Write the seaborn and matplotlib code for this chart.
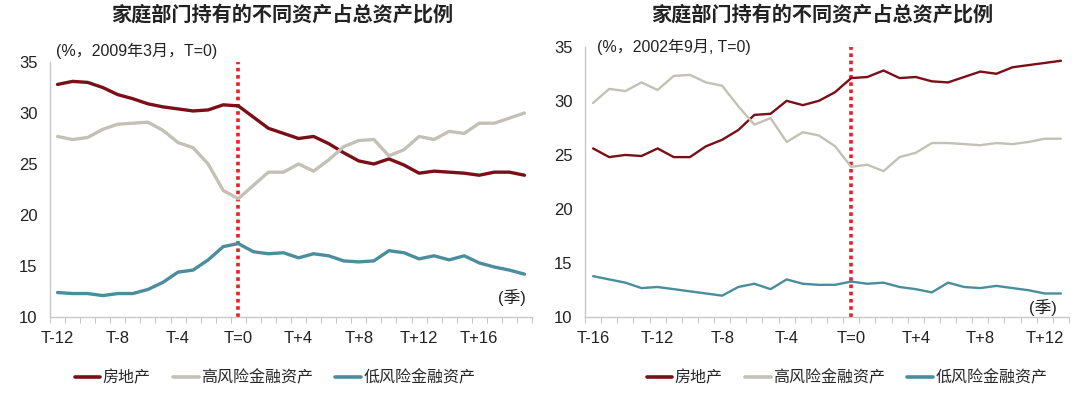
import numpy as np
import pandas as pd
import matplotlib
matplotlib.use("Agg")
import matplotlib.pyplot as plt
import seaborn as sns
from matplotlib.ticker import FixedLocator

# ---------------- data ----------------
title = "家庭部门持有的不同资产占总资产比例"
series_names = ["房地产", "高风险金融资产", "低风险金融资产"]

# Left panel: T-12 .. T+19 (T=0 : 2009年3月)
left_t = list(range(-12, 20))
left_real_estate = [32.8, 33.1, 33.0, 32.5, 31.8, 31.4, 30.9, 30.6, 30.4, 30.2, 30.3, 30.8, 30.7,
                    29.6, 28.5, 28.0, 27.5, 27.7, 27.0, 26.1, 25.3, 25.0, 25.5, 24.9, 24.1, 24.3,
                    24.2, 24.1, 23.9, 24.2, 24.2, 23.9]
left_high_risk = [27.7, 27.4, 27.6, 28.4, 28.9, 29.0, 29.1, 28.3, 27.1, 26.6, 25.0, 22.4, 21.6,
                  22.9, 24.2, 24.2, 25.0, 24.3, 25.4, 26.7, 27.3, 27.4, 25.8, 26.4, 27.7, 27.4,
                  28.2, 28.0, 29.0, 29.0, 29.5, 30.0]
left_low_risk = [12.4, 12.3, 12.3, 12.1, 12.3, 12.3, 12.7, 13.4, 14.4, 14.6, 15.6, 16.9, 17.2,
                 16.4, 16.2, 16.3, 15.8, 16.2, 16.0, 15.5, 15.4, 15.5, 16.5, 16.3, 15.7, 16.0,
                 15.6, 16.0, 15.3, 14.9, 14.6, 14.2]
left_tick_labels = ["T-12", "T-8", "T-4", "T=0", "T+4", "T+8", "T+12", "T+16"]
left_note = "(%，2009年3月，T=0)"

# Right panel: T-16 .. T+13 (T=0 : 2002年9月)
right_t = list(range(-16, 14))
right_real_estate = [25.6, 24.8, 25.0, 24.9, 25.6, 24.8, 24.8, 25.8, 26.4, 27.3, 28.7, 28.8, 30.0,
                     29.6, 30.0, 30.8, 32.1, 32.2, 32.8, 32.1, 32.2, 31.8, 31.7, 32.2, 32.7, 32.5,
                     33.1, 33.3, 33.5, 33.7]
right_high_risk = [29.8, 31.1, 30.9, 31.7, 31.0, 32.3, 32.4, 31.7, 31.4, 29.5, 27.8, 28.4, 26.2,
                   27.1, 26.8, 25.8, 23.9, 24.1, 23.5, 24.8, 25.2, 26.1, 26.1, 26.0, 25.9, 26.1,
                   26.0, 26.2, 26.5, 26.5]
right_low_risk = [13.8, 13.5, 13.2, 12.7, 12.8, 12.6, 12.4, 12.2, 12.0, 12.8, 13.1, 12.6, 13.5,
                  13.1, 13.0, 13.0, 13.3, 13.1, 13.2, 12.8, 12.6, 12.3, 13.2, 12.8, 12.7, 12.9,
                  12.7, 12.5, 12.2, 12.2]
right_tick_labels = ["T-16", "T-12", "T-8", "T-4", "T=0", "T+4", "T+8", "T+12"]
right_note = "(%，2002年9月, T=0)"

unit_label = "(季)"
palette = {"房地产": "#7a0f17", "高风险金融资产": "#c3c1b5", "低风险金融资产": "#4a8d9c"}

# ---------------- style ----------------
sns.set_theme(style="white")
plt.rcParams["font.family"] = ["Liberation Sans", "Noto Sans CJK SC", "DejaVu Sans"]
plt.rcParams["axes.unicode_minus"] = False

fig = plt.figure(figsize=(10.8, 3.96), dpi=100)
ax_l = fig.add_axes([50 / 1080, 1 - 317 / 396, 482 / 1080, 255 / 396])
ax_r = fig.add_axes([585 / 1080, 1 - 317.3 / 396, 484 / 1080, 270.6 / 396])


def make_df(ts, a, b, c):
    rows = []
    for name, vals in zip(series_names, (a, b, c)):
        for i, (t, v) in enumerate(zip(ts, vals)):
            rows.append({"pos": i, "t": t, "series": name, "value": v})
    return pd.DataFrame(rows)


def draw(ax, ts, a, b, c, labels, note, note_xy, unit_xy, lw, legend_x):
    df = make_df(ts, a, b, c)
    sns.lineplot(data=df, x="pos", y="value", hue="series", hue_order=series_names,
                 palette=palette, linewidth=lw, ax=ax, legend=False)
    n = len(ts)
    ax.set_xlim(-0.5, n - 0.5)
    ax.set_ylim(10, 35)
    ax.set_yticks([10, 15, 20, 25, 30, 35])
    zero = ts.index(0)
    ax.axvline(zero, color="#ee1c25", linestyle=(0, (1, 1)), linewidth=2.6, zorder=1)
    lab_pos = [ts.index(int(s[1:].replace("=", ""))) if s != "T=0" else zero for s in labels]
    ax.set_xticks(lab_pos)
    ax.set_xticklabels(labels)
    ax.xaxis.set_minor_locator(FixedLocator(np.arange(-0.5, n, 1.0)))
    ax.tick_params(axis="x", which="major", length=0, pad=10, labelsize=12, colors="#222222")
    ax.tick_params(axis="x", which="minor", length=4, width=0.8, color="#c8c8c8", direction="out",
                   bottom=True)
    ax.tick_params(axis="y", length=0, pad=9, labelsize=12, colors="#222222")
    for side in ["top", "right"]:
        ax.spines[side].set_visible(False)
    for side in ["left", "bottom"]:
        ax.spines[side].set_color("#c8c8c8")
        ax.spines[side].set_linewidth(1.0)
    ax.set_xlabel("")
    ax.set_ylabel("")
    ax.grid(False)
    fig.text(note_xy[0] / 1080, 1 - note_xy[1] / 396, note, fontsize=11.5,
             ha="left", va="center", color="#222222")
    fig.text(unit_xy[0] / 1080, 1 - unit_xy[1] / 396, unit_label, fontsize=12,
             ha="center", va="center", color="#222222")
    handles = [plt.Line2D([], [], color=palette[s], linewidth=2.6) for s in series_names]
    fig.legend(handles, series_names, loc="center", bbox_to_anchor=(legend_x / 1080, 1 - 378 / 396),
               ncol=3, frameon=False, fontsize=11.5, handlelength=1.6, handletextpad=0.15,
               columnspacing=1.4)


draw(ax_l, left_t, left_real_estate, left_high_risk, left_low_risk, left_tick_labels,
     left_note, (56, 51), (512, 297), 2.4, 275)
draw(ax_r, right_t, right_real_estate, right_high_risk, right_low_risk, right_tick_labels,
     right_note, (597, 47), (1043, 308), 1.7, 847)

fig.text(282 / 1080, 1 - 15 / 396, title, fontsize=14.5, fontweight="bold",
         ha="center", va="center", color="#222222")
fig.text(822 / 1080, 1 - 15 / 396, title, fontsize=14.5, fontweight="bold",
         ha="center", va="center", color="#222222")

fig.savefig("out.png", dpi=100)
